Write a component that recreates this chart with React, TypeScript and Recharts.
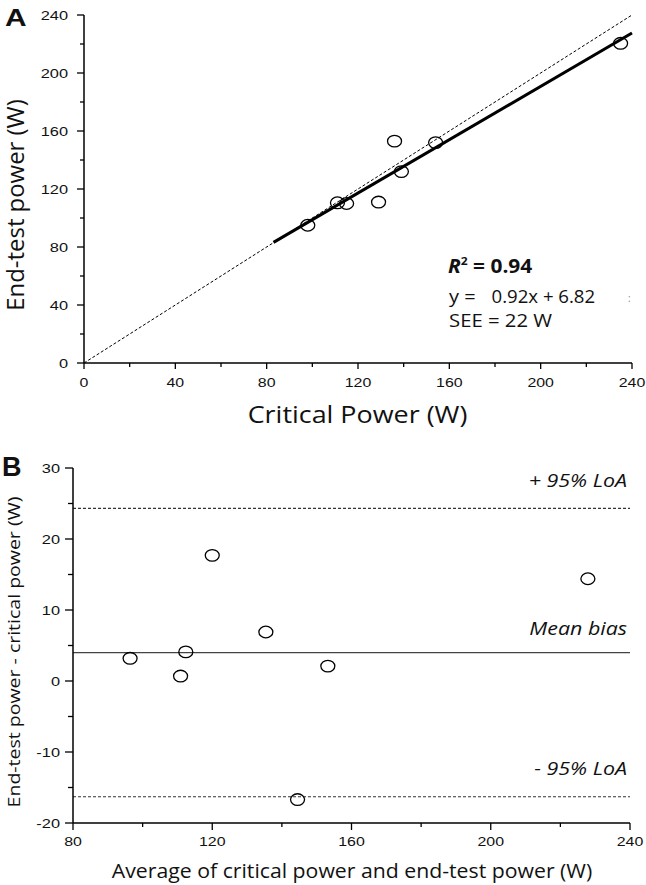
import React from "react";
import { ScatterChart, Scatter, XAxis, YAxis, ReferenceLine } from "recharts";

// panel A: critical power vs end-test power
const cpValues = [98, 111, 115, 129, 136, 139, 154, 235];
const endTestValues = [95, 110.5, 110, 111, 153, 132, 152, 220.5];
const axisTicksA = [0, 20, 40, 60, 80, 100, 120, 140, 160, 180, 200, 220, 240];
const fitSlope = 0.92;
const fitIntercept = 6.82;
const fitRange = [83, 240];

// panel B: Bland-Altman
const avgValues = [96.4, 110.9, 112.4, 120, 135.4, 144.5, 153.2, 227.9];
const diffValues = [3.2, 0.7, 4.1, 17.7, 6.9, -16.7, 2.1, 14.4];
const xTicksB = [80, 100, 120, 140, 160, 180, 200, 220, 240];
const yTicksB = [-20, -15, -10, -5, 0, 5, 10, 15, 20, 25, 30];
const meanBias = 4.0;
const upperLoA = 24.3;
const lowerLoA = -16.3;

const dataA = cpValues.map((x, i) => ({ x, y: endTestValues[i] }));
const dataB = avgValues.map((x, i) => ({ x, y: diffValues[i] }));

const TICK_FONT = "'Liberation Sans', Arial, sans-serif";
const TEXT_FONT = "'Open Sans', sans-serif";

// text with a horizontal stretch (the source figure is a bit wide)
const SText = ({ x, y, sx = 1, rotate = 0, children, ...rest }: any) => (
  <text transform={`translate(${x} ${y}) rotate(${rotate}) scale(${sx} 1)`} x={0} y={0} {...rest}>
    {children}
  </text>
);

const makeYTick = (major: number, majorLen: number, minorLen: number, gap: number) => (props: any) => {
  const { x, y, payload } = props;
  const isMajor = payload.value % major === 0;
  const len = isMajor ? majorLen : minorLen;
  return (
    <g>
      <line x1={x - len} y1={y} x2={x} y2={y} stroke="#000" strokeWidth={1.3} />
      {isMajor && (
        <SText x={x - gap} y={y + 4.5} sx={1.28} textAnchor="end" fontSize={12.8} fontFamily={TICK_FONT} fill="#111">
          {payload.value}
        </SText>
      )}
    </g>
  );
};

const makeXTick = (major: number, majorLen: number, minorLen: number, gap: number) => (props: any) => {
  const { x, y, payload } = props;
  const isMajor = payload.value % major === 0;
  const len = isMajor ? majorLen : minorLen;
  return (
    <g>
      <line x1={x} y1={y} x2={x} y2={y + len} stroke="#000" strokeWidth={1.3} />
      {isMajor && (
        <SText x={x} y={y + gap} sx={1.18} textAnchor="middle" fontSize={13.5} fontFamily={TICK_FONT} fill="#111">
          {payload.value}
        </SText>
      )}
    </g>
  );
};

const OpenCircle = (props: any) => (
  <ellipse cx={props.cx} cy={props.cy} rx={7} ry={5.8} fill="none" stroke="#000" strokeWidth={1.3} />
);

const lineLabel = (text: string, lift: number) => (props: any) => {
  const vb = props.viewBox;
  return (
    <SText
      x={vb.x + vb.width - 3}
      y={vb.y - lift}
      sx={1.19}
      textAnchor="end"
      fontSize={18}
      fontStyle="italic"
      fontFamily={TEXT_FONT}
      fill="#111"
    >
      {text}
    </SText>
  );
};

export default function App() {
  return (
    <div style={{ position: "absolute", left: 0, top: 0, width: 646, height: 885, background: "#fff" }}>
      <div style={{ position: "absolute", left: 0, top: 0 }}>
        <ScatterChart width={646} height={420} margin={{ top: 15, right: 14, bottom: 0, left: 0 }}>
          <XAxis
            type="number"
            dataKey="x"
            domain={[0, 240]}
            ticks={axisTicksA}
            interval={0}
            height={57}
            tickSize={0}
            tickMargin={0}
            tickLine={false}
            axisLine={{ stroke: "#000", strokeWidth: 1.5 }}
            tick={makeXTick(40, 6, 4, 24)}
          />
          <YAxis
            type="number"
            dataKey="y"
            domain={[0, 240]}
            ticks={axisTicksA}
            interval={0}
            width={84}
            tickSize={0}
            tickMargin={0}
            tickLine={false}
            axisLine={{ stroke: "#000", strokeWidth: 1.5 }}
            tick={makeYTick(40, 7, 4, 16)}
          />
          <ReferenceLine
            segment={[{ x: 0, y: 0 }, { x: 240, y: 240 }]}
            stroke="#000"
            strokeWidth={1}
            strokeDasharray="3 2"
            ifOverflow="visible"
          />
          <ReferenceLine
            segment={[
              { x: fitRange[0], y: fitSlope * fitRange[0] + fitIntercept },
              { x: fitRange[1], y: fitSlope * fitRange[1] + fitIntercept },
            ]}
            stroke="#000"
            strokeWidth={3}
            ifOverflow="visible"
          />
          <Scatter data={dataA} shape={OpenCircle} isAnimationActive={false} />
        </ScatterChart>
      </div>
      <div style={{ position: "absolute", left: 0, top: 420 }}>
        <ScatterChart width={646} height={465} margin={{ top: 48, right: 16, bottom: 0, left: 0 }}>
          <XAxis
            type="number"
            dataKey="x"
            domain={[80, 240]}
            ticks={xTicksB}
            interval={0}
            height={62}
            tickSize={0}
            tickMargin={0}
            tickLine={false}
            axisLine={{ stroke: "#000", strokeWidth: 1.5 }}
            tick={makeXTick(40, 7, 4, 23)}
          />
          <YAxis
            type="number"
            dataKey="y"
            domain={[-20, 30]}
            ticks={yTicksB}
            interval={0}
            width={73}
            tickSize={0}
            tickMargin={0}
            tickLine={false}
            axisLine={{ stroke: "#000", strokeWidth: 1.5 }}
            tick={makeYTick(10, 8, 5, 13)}
          />
          <ReferenceLine y={upperLoA} stroke="#333" strokeWidth={1.2} strokeDasharray="3 2" label={lineLabel("+ 95% LoA", 21)} />
          <ReferenceLine y={meanBias} stroke="#444" strokeWidth={1.2} label={lineLabel("Mean bias", 18)} />
          <ReferenceLine y={lowerLoA} stroke="#333" strokeWidth={1.2} strokeDasharray="3 2" label={lineLabel("- 95% LoA", 22)} />
          <Scatter data={dataB} shape={OpenCircle} isAnimationActive={false} />
        </ScatterChart>
      </div>
      <svg
        width={646}
        height={885}
        style={{ position: "absolute", left: 0, top: 0, pointerEvents: "none" }}
        fontFamily={TEXT_FONT}
        fill="#111"
      >
        <SText x={5} y={26} sx={1.3} fontSize={23} fontWeight="bold" fontFamily={TICK_FONT}>A</SText>
        <SText x={2} y={476} fontSize={27} fontWeight="bold" fontFamily={TICK_FONT}>B</SText>
        <SText x={357.5} y={423} sx={1.17} fontSize={23} textAnchor="middle">Critical Power (W)</SText>
        <SText x={24} y={205} rotate={-90} sx={1.04} fontSize={23} textAnchor="middle">End-test power (W)</SText>
        <SText x={448} y={273} sx={1.1} fontSize={19} fontWeight="bold">
          <tspan fontStyle="italic">R</tspan>
          <tspan dy={-8} fontSize={11}>2</tspan>
          <tspan dy={8}> = 0.94</tspan>
        </SText>
        <SText x={449} y={303} sx={1.05} fontSize={19}>y =</SText>
        <SText x={491.5} y={303} sx={0.98} fontSize={19}>0.92x + 6.82</SText>
        <text x={628} y={302} fontSize={10} fill="#888">:</text>
        <SText x={449} y={327} sx={1.07} fontSize={19}>SEE = 22 W</SText>
        <SText x={352} y={877.5} sx={1.09} fontSize={19.5} textAnchor="middle">Average of critical power and end-test power (W)</SText>
        <SText x={20} y={652} rotate={-90} sx={1.22} fontSize={16} textAnchor="middle">End-test power - critical power (W)</SText>
      </svg>
    </div>
  );
}
